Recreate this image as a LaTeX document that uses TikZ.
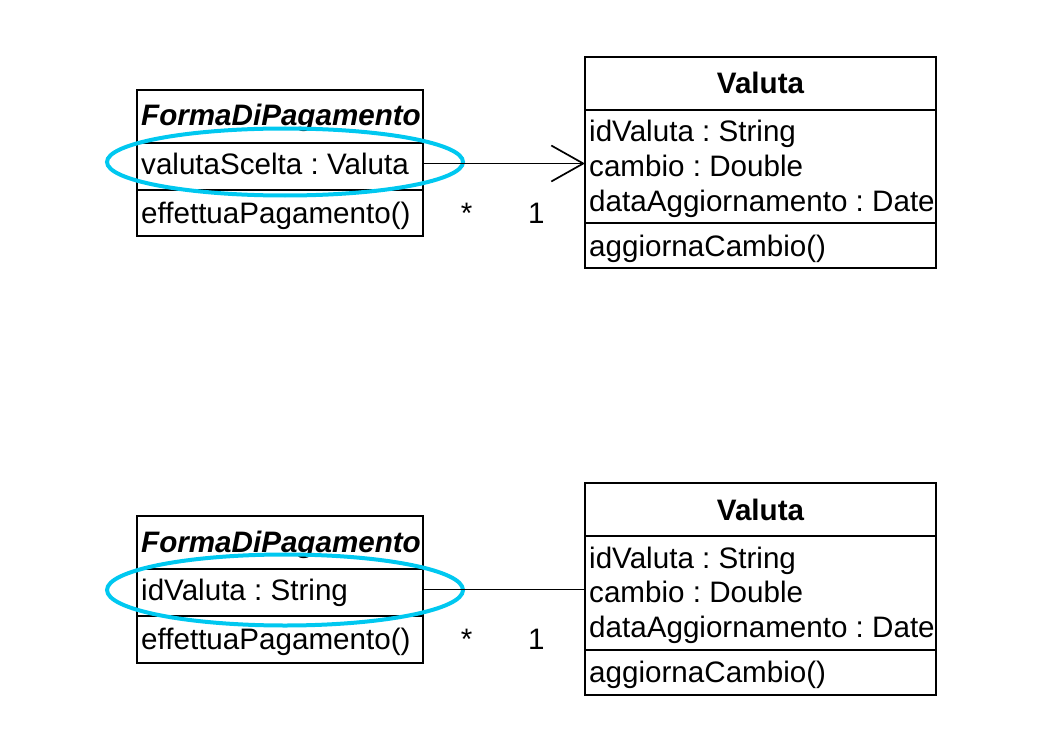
\documentclass[tikz,border=0pt]{standalone}
\usepackage{fontspec}
\setmainfont{Liberation Sans}
\usetikzlibrary{positioning,shapes.geometric,arrows.meta}
\definecolor{hlcyan}{RGB}{0,200,240}
\frenchspacing

\begin{document}
\begin{tikzpicture}[x=1pt, y=-1pt, font=\fontsize{29.6}{35}\selectfont,
    box/.style={draw, line width=2pt, inner sep=0pt, outer sep=0pt, minimum width=#1},
    txt/.style={anchor=base west, inner sep=0pt},
    mult/.style={anchor=base, inner sep=0pt, yshift=-59.5pt},
    hl/.style={draw=hlcyan, line width=4pt, ellipse, inner sep=0pt, minimum width=356pt, minimum height=#1},
    assoc/.style={line width=1.7pt}]
    \useasboundingbox (0,0) rectangle (1044,733);

    % top: attribute of type Valuta
    \node[box=286pt, minimum height=53pt, anchor=north west] (formaA) at (137,90) {};
    \node[box=286pt, minimum height=47pt, below=0pt of formaA] (formaAattr) {};
    \node[box=286pt, minimum height=46pt, below=0pt of formaAattr] (formaAop) {};
    \node[txt] (formaAname) at (141,126) {\bfseries\itshape FormaDiPagamento};
    \node[txt] (formaAvs) at (141,174) {valutaScelta : Valuta};
    \node[txt] (formaAeff) at (141,223) {effettuaPagamento()};

    \node[box=351pt, minimum height=53pt, anchor=north west] (valutaA) at (585,57) {};
    \node[box=351pt, minimum height=113pt, below=0pt of valutaA] (valutaAattr) {};
    \node[box=351pt, minimum height=45pt, below=0pt of valutaAattr] (valutaAop) {};
    \node[anchor=base, inner sep=0pt] (valutaAname) at (760.5,94) {\bfseries Valuta};
    \node[txt] (valutaAid) at (589,142) {idValuta : String};
    \node[txt] (valutaAcambio) at (589,176.5) {cambio : Double};
    \node[txt] (valutaAdata) at (589,211) {dataAggiornamento : Date};
    \node[txt] (valutaAagg) at (589,256) {aggiornaCambio()};

    \node[hl=67pt] (selA) at (285,162) {};
    \coordinate (linkA) at ([yshift=3pt]formaAattr.east);
    \draw[assoc, -{Straight Barb[length=32pt, width=36pt]}] (linkA) -- (linkA -| valutaAattr.west)
        node[mult, pos=0.27] {*} node[mult, pos=0.70] {1};

    % bottom: attribute of type String
    \node[box=286pt, minimum height=53pt, anchor=north west] (formaB) at (137,516) {};
    \node[box=286pt, minimum height=47pt, below=0pt of formaB] (formaBattr) {};
    \node[box=286pt, minimum height=47pt, below=0pt of formaBattr] (formaBop) {};
    \node[txt] (formaBname) at (141,552) {\bfseries\itshape FormaDiPagamento};
    \node[txt] (formaBid) at (141,600) {idValuta : String};
    \node[txt] (formaBeff) at (141,649) {effettuaPagamento()};

    \node[box=351pt, minimum height=53pt, anchor=north west] (valutaB) at (585,483) {};
    \node[box=351pt, minimum height=114pt, below=0pt of valutaB] (valutaBattr) {};
    \node[box=351pt, minimum height=45pt, below=0pt of valutaBattr] (valutaBop) {};
    \node[anchor=base, inner sep=0pt] (valutaBname) at (760.5,520) {\bfseries Valuta};
    \node[txt] (valutaBid) at (589,568) {idValuta : String};
    \node[txt] (valutaBcambio) at (589,602.5) {cambio : Double};
    \node[txt] (valutaBdata) at (589,637) {dataAggiornamento : Date};
    \node[txt] (valutaBagg) at (589,682) {aggiornaCambio()};

    \node[hl=71pt] (selB) at (285,590) {};
    \coordinate (linkB) at ([yshift=3pt]formaBattr.east);
    \draw[assoc] (linkB) -- (linkB -| valutaBattr.west)
        node[mult, pos=0.27] {*} node[mult, pos=0.70] {1};
\end{tikzpicture}
\end{document}
